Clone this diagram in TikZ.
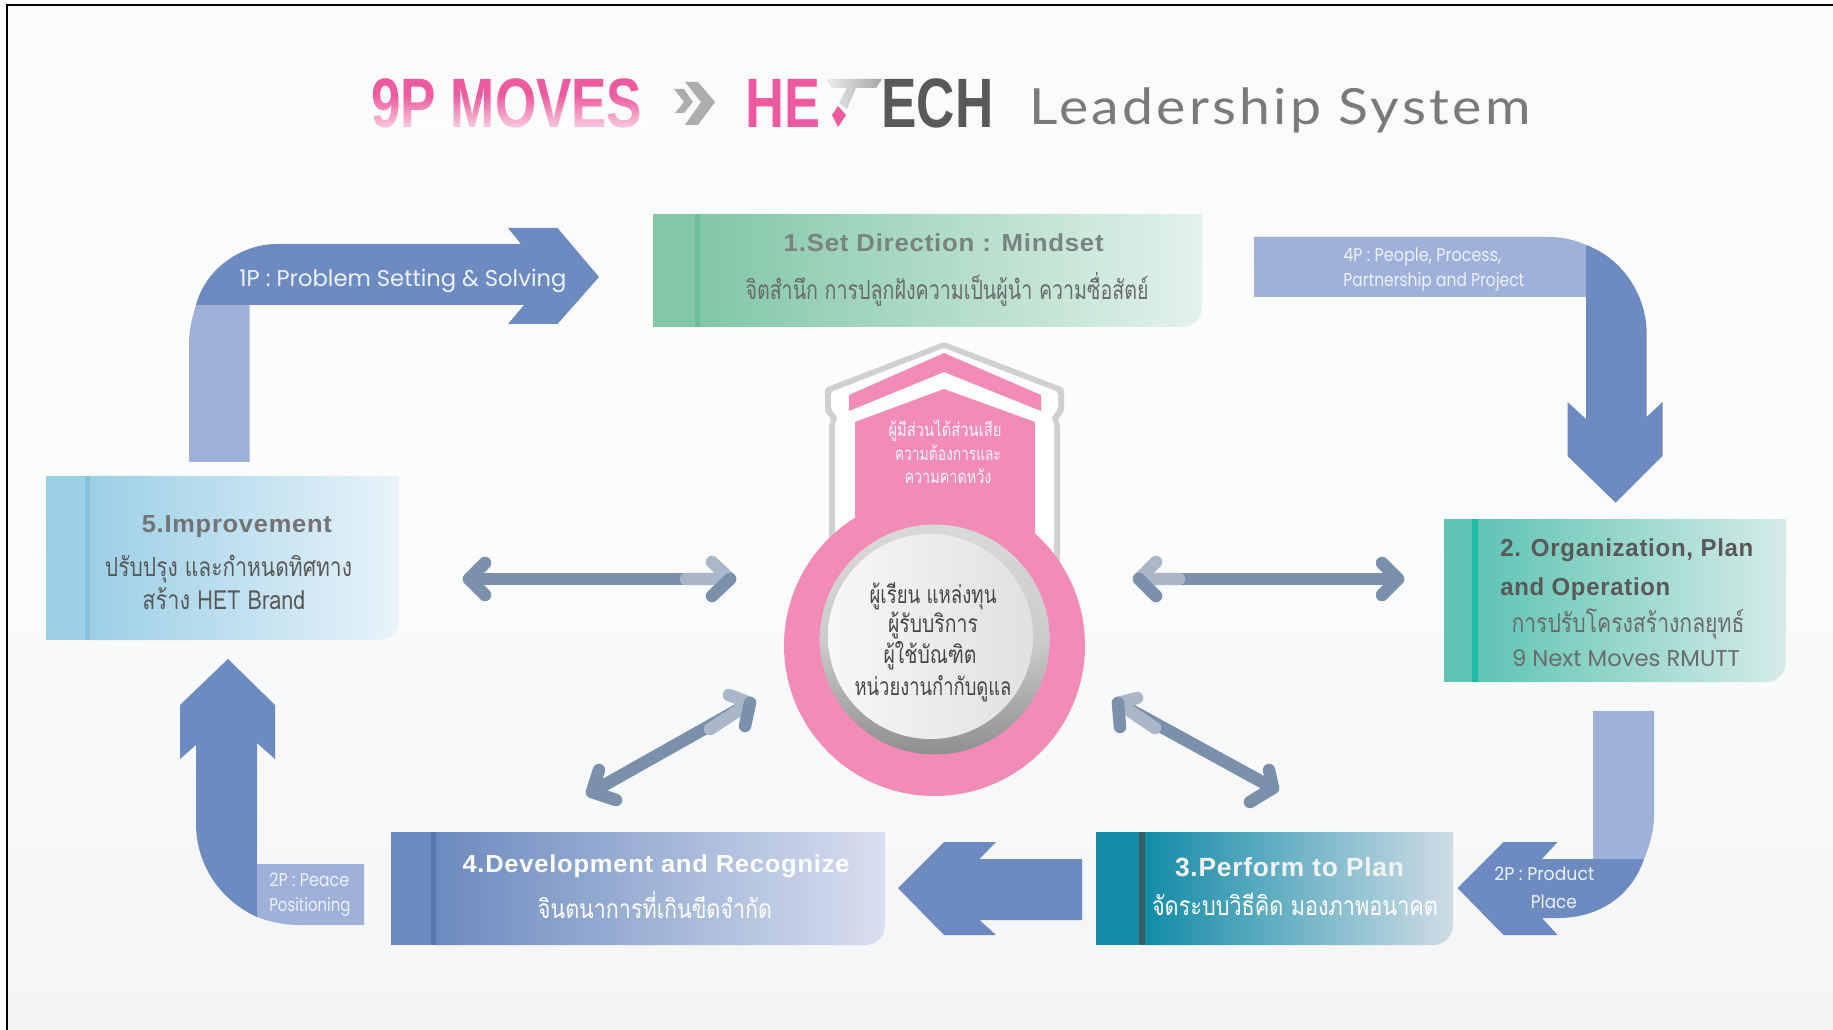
\documentclass[tikz,border=0pt]{standalone}
\usepackage{graphicx}
\usepackage{fontspec}
\usetikzlibrary{fadings}
\setmainfont{Liberation Sans}
\newfontfamily\thaifont[Script=Thai]{Loma}
\newfontfamily\roundfont{Poppins}
\newfontfamily\headfont[LetterSpace=3]{Liberation Sans}
\newfontfamily\titlefont{Liberation Sans}
\newfontfamily\lsfont[LetterSpace=6]{Lato}
\newdimen\px \px=0.02cm
\newcommand\fitx[2]{\resizebox{#1\px}{\height}{#2}}
\definecolor{arrdark}{HTML}{6D8BC0}
\definecolor{arrlight}{HTML}{9FB1D8}
\definecolor{dbldark}{HTML}{7A90AB}
\definecolor{dbllight}{HTML}{A9B7C8}
\definecolor{pinkb}{HTML}{F28BB8}
\definecolor{hgray}{HTML}{CFD0D1}
\definecolor{softwhite}{HTML}{EDF1F8}
\definecolor{headgray}{HTML}{7A8380}
\definecolor{titlepink}{HTML}{EE5AA0}
\definecolor{logodark}{HTML}{58595B}
\definecolor{chevgray}{HTML}{ADADAD}
\tikzset{
  lbl/.style={inner sep=0pt,anchor=base},
  lblw/.style={inner sep=0pt,anchor=base west},
  thai/.style={lbl,font=\thaifont\fontsize{15}{15}\selectfont},
  head/.style={lbl,font=\headfont\bfseries\fontsize{14}{14}\selectfont},
  headw/.style={lblw,font=\headfont\bfseries\fontsize{14}{14}\selectfont},
  small/.style={lblw,text=softwhite,font=\roundfont\fontsize{10.5}{10.5}\selectfont},
  arrd/.style={fill=arrdark},
  arrl/.style={fill=arrlight},
  dbl/.style={draw=dbldark,line width=0.25cm,line cap=round,line join=round},
  dbll/.style={draw=dbllight,line width=0.25cm,line cap=round,line join=round},
}
\newcommand\gradbox[9]{%
  % x1 y1 x2 y2 stripeL stripeR leftcol rightcol stripecol
  \path[left color=#7,right color=#8] (#6,#2) -- (#3,#2)
     [rounded corners=0.4cm] -- (#3,#4) [sharp corners] -- (#6,#4) -- cycle;
  \fill[#7] (#1,#2) rectangle (#5,#4);
  \fill[#9] (#5,#2) rectangle (#6,#4);
}
\definecolor{bgbot}{HTML}{F3F5F7}
\definecolor{g1a}{HTML}{82C7A6}\definecolor{g1b}{HTML}{E3F2EC}\definecolor{g1s}{HTML}{6FBD98}
\definecolor{g2a}{HTML}{5FC4B5}\definecolor{g2b}{HTML}{D6ECE7}\definecolor{g2s}{HTML}{1FBBA6}
\definecolor{g3a}{HTML}{138CA8}\definecolor{g3b}{HTML}{CFDCE6}\definecolor{g3s}{HTML}{3C5C64}
\definecolor{g4a}{HTML}{6C8ABF}\definecolor{g4b}{HTML}{D8DFEF}\definecolor{g4s}{HTML}{5777AE}
\definecolor{g5a}{HTML}{9CCFE6}\definecolor{g5b}{HTML}{E8F3FA}\definecolor{g5s}{HTML}{86C0DC}
\begin{document}
\begin{tikzpicture}[x=0.02cm,y=-0.02cm]
\useasboundingbox (0,0) rectangle (1833,1030);
\fill[white] (0,0) rectangle (1833,1030);
% page background and frame
\path[top color=white!60!bgbot,bottom color=bgbot,middle color=white!70!bgbot] (7,5) rectangle (1833,1030);
\draw[black,line width=0.03cm] (7,1030) -- (7,5) -- (1833,5);

% title
\node[lblw,text=titlepink,font=\titlefont\bfseries\fontsize{39.8}{40}\selectfont] (t9p) at (371,128) {\fitx{271}{9P MOVES}};
\fill[white,opacity=0.75,path fading=north] (365,95) rectangle (650,131);
\fill[chevgray] (674,89) -- (684,89) -- (693,102) -- (684,113) -- (675,113) -- (684,102) -- cycle;
\fill[chevgray] (685,82) -- (698,82) -- (715,102) -- (698,125) -- (685,125) -- (701,102) -- cycle;
\node[lblw,text=titlepink,font=\titlefont\bfseries\fontsize{39.8}{40}\selectfont] (the) at (745,128) {\fitx{75}{HE}};
\path[left color=white!85!gray,right color=gray!70] (826,79) -- (882,79) -- (876,88) -- (856,88) -- (847,109) -- (839,103) -- (847,88) -- (832,88) -- cycle;
\fill[titlepink] (838,106) -- (846,115) -- (838,127) -- (832,115) -- cycle;
\node[lblw,text=logodark,font=\titlefont\bfseries\fontsize{39.8}{40}\selectfont] (tech) at (881,128) {\fitx{112}{ECH}};
\node[lblw,text=black!52,font=\lsfont\fontsize{28.4}{29}\selectfont] (tls) at (1029,124.5) {\fitx{501}{Leadership System}};

% box 1
\gradbox{653}{214}{1202}{327}{695}{700}{g1a}{g1b}{g1s}
\node[head,text=headgray] (b1h) at (943.7,251.7) {\fitx{320}{1.Set Direction : Mindset}};
\node[thai,text=black!58] (b1t) at (947,300) {\fitx{403}{จิตสำนึก การปลูกฝังความเป็นผู้นำ ความซื่อสัตย์}};

% box 2
\gradbox{1444}{519}{1786}{682}{1471.5}{1477.5}{g2a}{g2b}{g2s}
\node[headw,text=black!65] (b2h) at (1500,556) {\fitx{253}{2. Organization, Plan}};
\node[headw,text=black!65] (b2i) at (1500,595) {\fitx{170}{and Operation}};
\node[thai,text=black!58] (b2t) at (1628,632.7) {\fitx{233}{การปรับโครงสร้างกลยุทธ์}};
\node[lbl,text=black!58,font=\roundfont\fontsize{13}{13}\selectfont] (b2n) at (1626,666.7) {\fitx{228}{9 Next Moves RMUTT}};

% box 3
\gradbox{1096}{832}{1453}{945}{1139}{1145}{g3a}{g3b}{g3s}
\node[head,text=white!95!black,font=\headfont\bfseries\fontsize{15}{15}\selectfont] (b3h) at (1289.5,876) {\fitx{229}{3.Perform to Plan}};
\node[thai,text=white] (b3t) at (1295,915) {\fitx{286}{จัดระบบวิธีคิด มองภาพอนาคต}};

% box 4
\gradbox{391}{832}{885}{945}{430.5}{436}{g4a}{g4b}{g4s}
\node[head,text=white] (b4h) at (656,872.7) {\fitx{387}{4.Development and Recognize}};
\node[thai,text=white] (b4t) at (655,918) {\fitx{234}{จินตนาการที่เกินขีดจำกัด}};

% box 5
\gradbox{45.5}{476}{399}{640}{85}{90}{g5a}{g5b}{g5s}
\node[head,text=black!55] (b5h) at (236.8,532.7) {\fitx{190}{5.Improvement}};
\node[thai,text=black!65] (b5t) at (228.5,576) {\fitx{247}{ปรับปรุง และกำหนดทิศทาง}};
\node[thai,text=black!65] (b5u) at (224,609) {\fitx{163}{สร้าง HET Brand}};

% block arrow 1P
\fill[arrd] (196,305) .. controls (205,270) and (240,244) .. (277,244) -- (521,244) -- (508,228) -- (557.5,228) -- (599,277) -- (557.5,324) -- (508,324) -- (524,305) -- cycle;
\fill[arrl] (189,462) -- (189,345) .. controls (189,330) and (192,318) .. (196,305) -- (249.5,305) -- (249.5,462) -- cycle;
\node[lblw,text=softwhite,font=\roundfont\fontsize{13}{13}\selectfont] (a1p) at (239,287) {\fitx{327}{1P : Problem Setting \& Solving}};

% block arrow 4P
\fill[arrl] (1254,237) -- (1550,237) .. controls (1563,237) and (1575,240) .. (1586,245) -- (1586,297) -- (1254,297) -- cycle;
\fill[arrd] (1586,245) .. controls (1622,258) and (1646.6,295) .. (1646.6,333) -- (1646.6,417) -- (1662.5,402) -- (1662.5,456) -- (1615.6,502.7) -- (1567.5,456) -- (1567.5,402) -- (1586,419) -- cycle;
\node[small] (a4p) at (1343,261.7) {\fitx{158}{4P : People, Process,}};
\node[small] (a4q) at (1343,287) {\fitx{181}{Partnership and Project}};

% block arrow 2P product
\fill[arrl] (1593,711) -- (1654,711) -- (1654,815) .. controls (1654,830) and (1650,845) .. (1644,859) -- (1593,859) -- cycle;
\fill[arrd] (1644,859) .. controls (1632,895) and (1600,918) .. (1558,918) -- (1542,918) -- (1557.5,935) -- (1503.5,935) -- (1457.5,888) -- (1503.5,842) -- (1557.5,842) -- (1542,859) -- cycle;
\node[small] (a2p) at (1494,880.7) {\fitx{100}{2P : Product}};
\node[small] (a2q) at (1530.5,908) {\fitx{46}{Place}};

% block arrow 3 to 4
\fill[arrd] (898,888) -- (944,842) -- (996,842) -- (979.5,859) -- (1082,859) -- (1082,920) -- (979.5,920) -- (996,935) -- (944,935) -- cycle;

% block arrow 2P peace
\fill[arrd] (228,659) -- (275,705) -- (275,759) -- (257,743) -- (257,917) .. controls (220,900) and (196,865) .. (196,823) -- (196,745) -- (180,759) -- (180,705) -- cycle;
\fill[arrl] (257,864) -- (364,864) -- (364,925) -- (300,925) .. controls (285,925) and (270,922) .. (257,917) -- cycle;
\node[small] (a2r) at (269,886) {\fitx{80}{2P : Peace}};
\node[small] (a2s) at (269,911) {\fitx{81}{Positioning}};

% centre house
\fill[hgray,rounded corners=0.06cm] (944,342) -- (1064,388) -- (1064,412) -- (1057,420) -- (1060,424) -- (1060,570) -- (829,570) -- (829,424) -- (832,420) -- (825,412) -- (825,388) -- cycle;
\fill[white,rounded corners=0.04cm] (944,348) -- (1058,392) -- (1058,409) -- (1051,418) -- (1054,422) -- (1054,570) -- (835,570) -- (835,422) -- (838,418) -- (831,409) -- (831,392) -- cycle;
\fill[pinkb] (849,395) -- (944,353) -- (1041,395) -- (1041,411) -- (944,372) -- (849,411) -- cycle;
\fill[pinkb] (944,389) -- (1035,422) -- (1035,560) -- (855,560) -- (855,422) -- cycle;
\node[lbl,text=white!92!pinkb,font=\thaifont\fontsize{10.5}{10.5}\selectfont] (h1) at (945,436.7) {\fitx{113}{ผู้มีส่วนได้ส่วนเสีย}};
\node[lbl,text=white!92!pinkb,font=\thaifont\fontsize{10.5}{10.5}\selectfont] (h2) at (948,460) {\fitx{106}{ความต้องการและ}};
\node[lbl,text=white!92!pinkb,font=\thaifont\fontsize{10.5}{10.5}\selectfont] (h3) at (948,484) {\fitx{87}{ความคาดหวัง}};

% centre circles
\fill[pinkb] (934.5,645.5) circle (150.5);
\path[top color=black!15,bottom color=black!44,middle color=black!20] (934.7,639.5) circle (115);
\path[left color=black!3,right color=black!12] (930.5,636.5) circle (102.5);
\node[lbl,text=black!72,font=\thaifont\fontsize{14}{14}\selectfont] (c1) at (933,603) {\fitx{127}{ผู้เรียน แหล่งทุน}};
\node[lbl,text=black!72,font=\thaifont\fontsize{14}{14}\selectfont] (c2) at (933,632.7) {\fitx{90}{ผู้รับบริการ}};
\node[lbl,text=black!72,font=\thaifont\fontsize{14}{14}\selectfont] (c3) at (930,663) {\fitx{93}{ผู้ใช้บัณฑิต}};
\node[lbl,text=black!72,font=\thaifont\fontsize{14}{14}\selectfont] (c4) at (933,695) {\fitx{157}{หน่วยงานกำกับดูแล}};

% double arrows
\coordinate (lha) at (469,579); \coordinate (lhb) at (730,579); \coordinate (lhc) at (686,579);
\coordinate (lha1) at (485,563); \coordinate (lha2) at (485,595);
\coordinate (lhb1) at (712,562); \coordinate (lhb2) at (712,596);
\draw[dbl] (lha) -- (lhb);
\draw[dbl] (lha1) -- (lha) -- (lha2);
\draw[dbll] (lhb1) -- (lhb) -- (lhc);
\draw[dbl] (lhb) -- (lhb2);

\coordinate (rha) at (1139,579); \coordinate (rhb) at (1398,579); \coordinate (rhc) at (1179,579);
\coordinate (rha1) at (1156,562); \coordinate (rha2) at (1156,596);
\coordinate (rhb1) at (1382,563); \coordinate (rhb2) at (1382,595);
\draw[dbl] (rha) -- (rhb);
\draw[dbl] (rhb1) -- (rhb) -- (rhb2);
\draw[dbll] (rha1) -- (rha) -- (rhc);
\draw[dbl] (rha) -- (rha2);

\coordinate (bla) at (750,703); \coordinate (blb) at (592,792); \coordinate (blc) at (710,729);
\coordinate (bla1) at (729,695); \coordinate (bla2) at (745,726);
\coordinate (blb1) at (599,770); \coordinate (blb2) at (616,800);
\draw[dbl] (bla) -- (blb);
\draw[dbl] (blb1) -- (blb) -- (blb2);
\draw[dbll] (bla1) -- (bla) -- (blc);
\draw[dbl] (bla) -- (bla2);

\coordinate (bra) at (1118,703); \coordinate (brb) at (1273,788); \coordinate (brc) at (1155,728);
\coordinate (bra1) at (1137,698); \coordinate (bra2) at (1120,727);
\coordinate (brb1) at (1269,770); \coordinate (brb2) at (1250,802);
\draw[dbl] (bra) -- (brb);
\draw[dbl] (brb1) -- (brb) -- (brb2);
\draw[dbll] (bra1) -- (bra) -- (brc);
\draw[dbl] (bra) -- (bra2);
\end{tikzpicture}
\end{document}
